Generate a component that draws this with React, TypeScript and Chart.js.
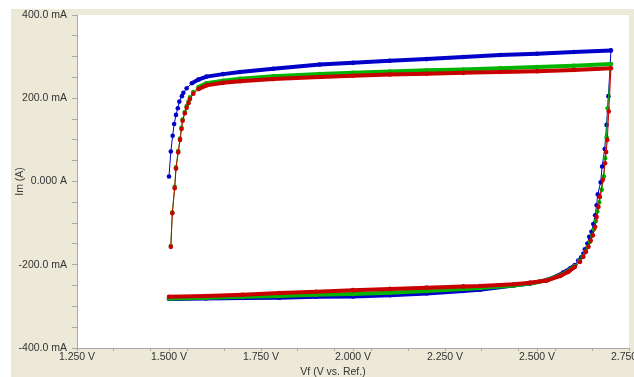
import { useEffect, useRef } from 'react';
import { Chart, registerables } from 'chart.js';

Chart.register(...registerables);

// ---- axis ticks ----
const xMajorTicks = [1.25, 1.5, 1.75, 2.0, 2.25, 2.5, 2.75];
const xMinorTicks = [1.35, 1.45, 1.55, 1.65, 1.85, 1.95, 2.05, 2.15, 2.35, 2.45, 2.55, 2.65];
const yMajorTicks = [-400, -200, 0, 200, 400];
const yMinorTicks = [-350, -300, -250, -150, -100, -50, 50, 100, 150, 250, 300, 350];

// ---- blue series (V, mA) ----
const blueUpV = [1.500, 1.505, 1.510, 1.514, 1.519, 1.524, 1.528, 1.535, 1.539, 1.548, 1.562, 1.580, 1.602, 1.647, 1.693, 1.783, 1.910, 2.000, 2.100, 2.200, 2.300, 2.400, 2.500, 2.600, 2.701];
const blueUpI = [12, 72, 110, 138, 160, 176, 192, 205, 213, 224, 236, 245, 252, 258, 263, 271, 281, 285, 290, 294, 299, 304, 307, 311, 315];
const blueDownV = [2.694, 2.689, 2.684, 2.677, 2.673, 2.665, 2.662, 2.658, 2.653, 2.648, 2.642, 2.637, 2.630, 2.626, 2.620, 2.612, 2.603, 2.590, 2.571, 2.554, 2.526, 2.481, 2.436, 2.345, 2.300, 2.200, 2.100, 2.000, 1.900, 1.800, 1.700, 1.600, 1.500];
const blueDownI = [205, 136, 78, 36, -2, -31, -57, -81, -102, -121, -133, -149, -163, -173, -182, -190, -201, -209, -219, -227, -237, -245, -250, -260, -263, -269, -273, -276, -277, -279, -280, -281, -282];

// ---- green series ----
const greenUpV = [1.505, 1.509, 1.5155, 1.519, 1.525, 1.530, 1.534, 1.537, 1.543, 1.548, 1.553, 1.557, 1.566, 1.580, 1.602, 1.647, 1.693, 1.783, 1.910, 2.000, 2.100, 2.200, 2.300, 2.400, 2.500, 2.600, 2.701];
const greenUpI = [-155, -74, -13, 34, 73, 103, 129, 149, 167, 181, 192, 202, 215, 227, 236, 242, 247, 253, 258, 261, 264, 267, 269, 272, 275, 278, 282];
const greenDownV = [2.692, 2.689, 2.685, 2.682, 2.676, 2.669, 2.664, 2.660, 2.655, 2.650, 2.644, 2.638, 2.631, 2.624, 2.615, 2.603, 2.588, 2.567, 2.530, 2.490, 2.436, 2.345, 2.300, 2.200, 2.100, 2.000, 1.900, 1.800, 1.700, 1.600, 1.500];
const greenDownI = [176, 106, 56, 12, -20, -50, -72, -95, -115, -130, -145, -157, -168, -180, -191, -203, -213, -224, -236, -244, -250, -256, -258, -263, -267, -270, -272, -275, -277, -279, -281];

// ---- red series ----
const redUpV = [1.505, 1.509, 1.5155, 1.519, 1.525, 1.530, 1.534, 1.537, 1.543, 1.548, 1.553, 1.557, 1.566, 1.580, 1.602, 1.647, 1.693, 1.783, 1.910, 2.000, 2.100, 2.200, 2.300, 2.400, 2.500, 2.600, 2.701];
const redUpI = [-157, -76, -16, 31, 70, 100, 126, 146, 164, 177, 188, 198, 211, 222, 231, 237, 241, 246, 251, 254, 257, 259, 261, 263, 265, 268, 272];
const redDownV = [2.695, 2.691, 2.688, 2.685, 2.679, 2.671, 2.667, 2.662, 2.658, 2.652, 2.646, 2.640, 2.633, 2.626, 2.617, 2.603, 2.585, 2.563, 2.526, 2.481, 2.436, 2.345, 2.300, 2.200, 2.100, 2.000, 1.900, 1.800, 1.700, 1.600, 1.500];
const redDownI = [168, 100, 71, 44, 4, -37, -61, -85, -109, -129, -142, -157, -169, -181, -193, -205, -217, -227, -238, -243, -247, -251, -252, -255, -258, -261, -265, -268, -272, -275, -277];

const FONT = { family: "'Liberation Sans', Arial, sans-serif", size: 10.5 };
const TEXT = '#333333';
const AXIS = '#a8a8a8';

function pts(upV: number[], upI: number[], downV: number[], downI: number[]) {
  return [
    ...upV.map((v, i) => ({ x: v, y: upI[i] })),
    ...downV.map((v, i) => ({ x: v, y: downI[i] })),
  ];
}

function ds(label: string, color: string, data: { x: number; y: number }[], order: number) {
  return {
    label,
    data,
    order,
    borderColor: color,
    backgroundColor: color,
    pointBackgroundColor: color,
    pointBorderWidth: 0,
    pointRadius: 2.3,
    pointHoverRadius: 2.3,
    borderWidth: 1,
    tension: 0,
    segment: {
      borderWidth: (ctx: any) => {
        const dx = Math.abs(ctx.p1.x - ctx.p0.x);
        const dy = Math.abs(ctx.p1.y - ctx.p0.y);
        return dy > dx * 0.8 ? 1 : 4;
      },
    },
  };
}

const whiteArea = {
  id: 'whiteArea',
  beforeDraw(chart: any) {
    const { ctx, chartArea } = chart;
    ctx.save();
    ctx.fillStyle = '#ffffff';
    ctx.fillRect(chartArea.left, chartArea.top, chartArea.right - chartArea.left, chartArea.bottom - chartArea.top);
    ctx.restore();
  },
};

export default function App() {
  const ref = useRef<HTMLCanvasElement>(null);
  useEffect(() => {
    document.documentElement.style.overflow = 'hidden';
    document.body.style.margin = '0';
    document.body.style.overflow = 'hidden';
    const chart = new Chart(ref.current as HTMLCanvasElement, {
      type: 'line',
      data: {
        datasets: [
          ds('Red', '#c80000', pts(redUpV, redUpI, redDownV, redDownI), 0),
          ds('Green', '#00b400', pts(greenUpV, greenUpI, greenDownV, greenDownI), 1),
          ds('Blue', '#0000c8', pts(blueUpV, blueUpI, blueDownV, blueDownI), 2),
        ] as any,
      },
      options: {
        animation: false,
        responsive: false,
        devicePixelRatio: 1,
        layout: { padding: { top: 6, left: 0, right: 0, bottom: 0 } },
        plugins: {
          legend: { display: false },
          tooltip: { enabled: false },
          title: {
            display: true,
            position: 'bottom',
            text: 'Vf (V vs. Ref.)',
            color: TEXT,
            font: { ...FONT, weight: 'normal' },
            padding: { top: 0, bottom: 0 },
          },
        },
        scales: {
          x: {
            type: 'linear',
            min: 1.25,
            max: 2.75,
            afterBuildTicks: (scale: any) => {
              scale.ticks = [...xMajorTicks, ...xMinorTicks].sort((a, b) => a - b).map((v) => ({ value: v }));
            },
            afterFit: (scale: any) => {
              scale.height = 17.4;
              scale.paddingLeft = 0;
              scale.paddingRight = 26;
            },
            ticks: {
              autoSkip: false,
              maxRotation: 0,
              padding: 0,
              color: TEXT,
              font: FONT,
              callback: (v: any) => {
                const n = Number(v);
                return xMajorTicks.some((m) => Math.abs(m - n) < 1e-6) ? n.toFixed(3) + ' V' : '';
              },
            },
            grid: { drawOnChartArea: false, drawTicks: true, tickLength: 3, color: AXIS },
            border: { display: true, color: AXIS, width: 1 },
          },
          y: {
            type: 'linear',
            min: -400,
            max: 400,
            afterBuildTicks: (scale: any) => {
              scale.ticks = [...yMajorTicks, ...yMinorTicks].sort((a, b) => a - b).map((v) => ({ value: v }));
            },
            afterFit: (scale: any) => {
              scale.width = 66;
              scale.paddingTop = 0;
              scale.paddingBottom = 0;
            },
            title: {
              display: true,
              text: 'Im (A)',
              color: TEXT,
              font: FONT,
              padding: { top: 3, bottom: 0 },
            },
            ticks: {
              autoSkip: false,
              padding: 5,
              color: TEXT,
              font: FONT,
              callback: (v: any) => {
                const n = Number(v);
                if (!yMajorTicks.includes(n)) return '';
                return n === 0 ? '0.000 A' : n.toFixed(1) + ' mA';
              },
            },
            grid: { drawOnChartArea: false, drawTicks: true, tickLength: 5, color: AXIS },
            border: { display: true, color: AXIS, width: 1 },
          },
        },
      },
      plugins: [whiteArea],
    } as any);
    return () => chart.destroy();
  }, []);
  return (
    <div style={{ position: 'absolute', left: 11, top: 9, width: 660, height: 380, background: '#ECE9D8' }}>
      <canvas ref={ref} width={644} height={369} style={{ display: 'block', width: 644, height: 369 }} />
    </div>
  );
}
